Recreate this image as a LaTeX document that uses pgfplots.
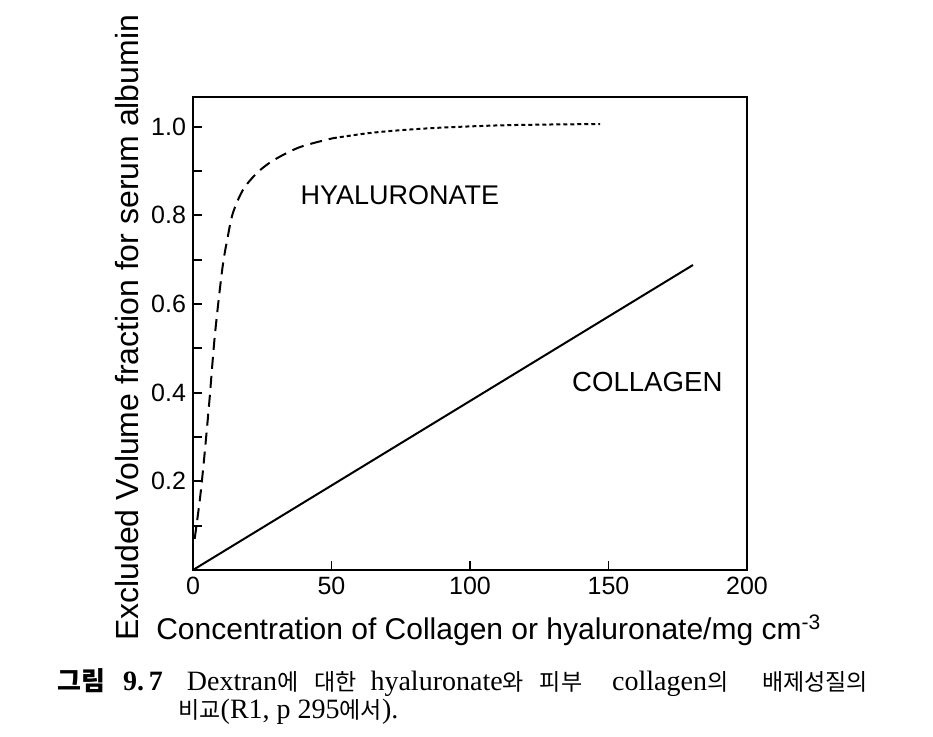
\documentclass[border=0pt]{standalone}
\usepackage{fontspec}
\setmainfont{Liberation Sans}
\newfontfamily\capserif{Liberation Serif}
\newfontfamily\kr{Noto Sans CJK KR}
\usepackage{pgfplots}
\pgfplotsset{compat=1.18}
\begin{document}
\begin{tikzpicture}
\useasboundingbox (0,0) rectangle (466.5pt,368.5pt);
\begin{axis}[
  at={(96.5pt,83.5pt)}, anchor=south west,
  scale only axis, width=277pt, height=236.5pt,
  xmin=0, xmax=200, ymin=0, ymax=1.067,
  axis line style={line width=1.2pt},
  tick align=inside, xtick pos=left, ytick pos=left,
  major tick length=4.5pt, minor tick length=4.5pt,
  every tick/.style={black, line width=0.9pt},
  xtick={0,50,100,150,200},
  ytick={0.2,0.4,0.6,0.8,1.0},
  minor ytick={0.1,0.3,0.5,0.7,0.9},
  yticklabel style={/pgf/number format/fixed,/pgf/number format/precision=1,/pgf/number format/fixed zerofill},
  /pgf/number format/assume math mode=true,
  tick label style={font=\fontsize{12.5}{15}\selectfont},
  xlabel={Concentration of Collagen or hyaluronate/mg cm\textsuperscript{-3}},
  ylabel={Excluded Volume fraction for serum albumin},
  xlabel style={font=\fontsize{15}{18}\selectfont, at={(axis description cs:0.534,-0.127)}, anchor=center},
  ylabel style={font=\fontsize{16}{19}\selectfont, at={(axis description cs:-0.119,0.512)}, anchor=center},
  clip=false,
]
\addplot[black, line width=1pt] coordinates {(0,0) (180.5,0.688)};
\addplot[black, line width=1pt, dash pattern=on 6pt off 3.5pt, smooth] coordinates {
(0.6,0.07) (2.5,0.16) (4,0.25) (5.9,0.38) (7.9,0.53) (10.6,0.68) (12.5,0.75) (14.4,0.805) (18,0.857) (23,0.895) (29,0.924) (38.6,0.954) (50.5,0.974)};
\addplot[black, line width=1pt, dash pattern=on 2pt off 1.5pt, smooth] coordinates {
(50.5,0.974) (62.8,0.985) (74.7,0.992) (90,0.998) (110.8,1.003) (130,1.005) (147,1.006)};
\node[font=\fontsize{13.5}{16}\selectfont] at (axis cs:74.7,0.846) {HYALURONATE};
\node[font=\fontsize{13.8}{16}\selectfont] at (axis cs:164,0.424) {COLLAGEN};
\end{axis}
\node[anchor=base west, inner sep=0pt, font=\fontsize{14}{16}\selectfont] at (28.5pt,23pt)
  {{\kr\bfseries\fontsize{13}{15}\selectfont 그림}\hspace{9pt}{\capserif\bfseries 9.\,7}\hspace{12pt}{\capserif Dextran}{\kr\fontsize{11.5}{13}\selectfont 에\hspace{8pt}대한}\hspace{7pt}{\capserif hyaluronate}{\kr\fontsize{11.5}{13}\selectfont 와\hspace{8pt}피부}\hspace{15pt}{\capserif collagen}{\kr\fontsize{11.5}{13}\selectfont 의\hspace{17pt}배제성질의}};
\node[anchor=base west, inner sep=0pt, font=\fontsize{14}{16}\selectfont] at (89pt,9pt)
  {{\kr\fontsize{11.5}{13}\selectfont 비교}{\capserif (R1, p 295}{\kr\fontsize{11.5}{13}\selectfont 에서}{\capserif ).}};
\end{tikzpicture}
\end{document}
